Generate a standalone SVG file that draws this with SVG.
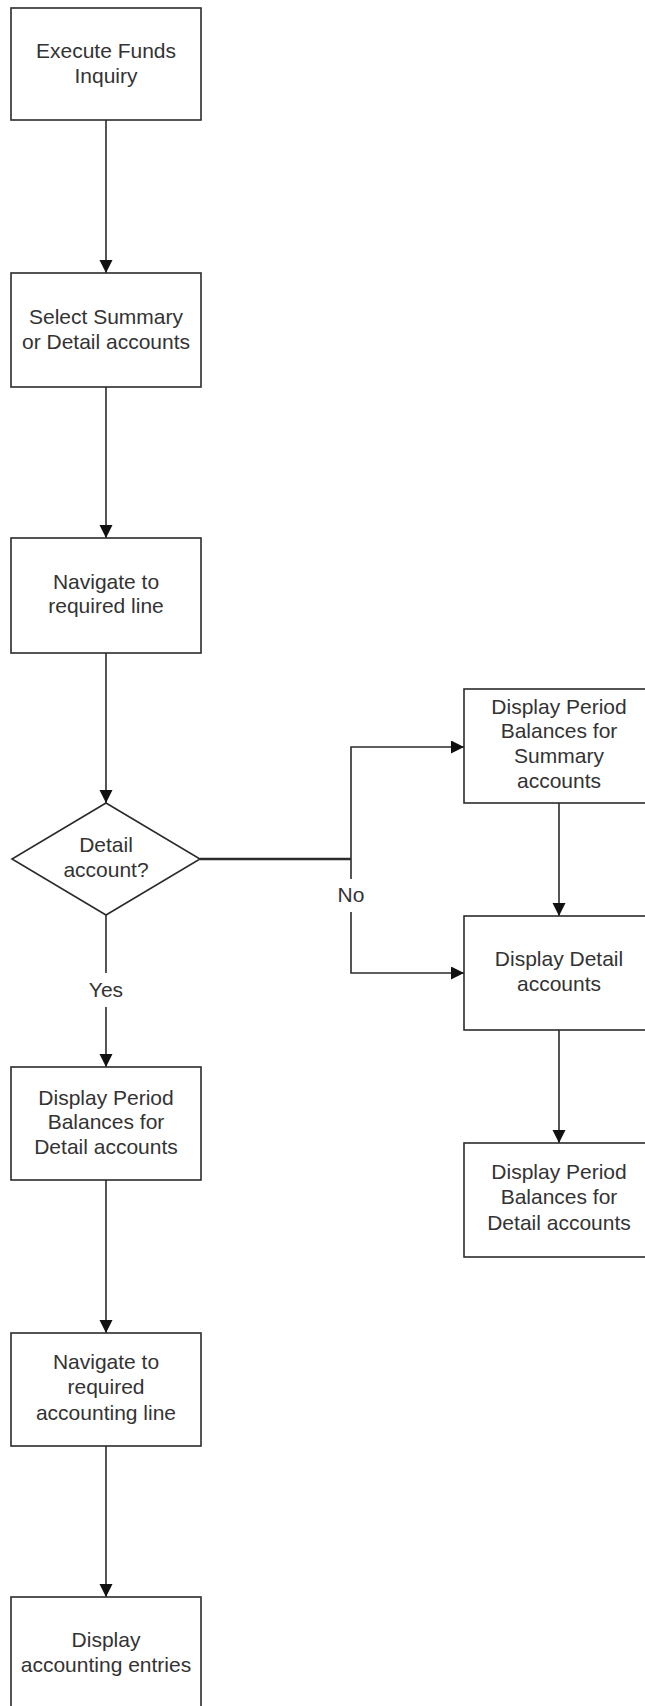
<svg xmlns="http://www.w3.org/2000/svg" width="645" height="1706" viewBox="0 0 645 1706">
<style>
  .box { fill: #ffffff; stroke: #2b2b2b; stroke-width: 1.6; }
  .lbl { font-family: "Liberation Sans", Arial, sans-serif; font-size: 21px; fill: #333333; text-anchor: middle; }
  .ln { fill: none; stroke: #2b2b2b; stroke-width: 1.6; }
  .arr { marker-end: url(#ah); }
</style>
<defs>
  <marker id="ah" markerUnits="userSpaceOnUse" markerWidth="14" markerHeight="14" refX="13" refY="6.5" orient="auto">
    <path d="M0,0 L13,6.5 L0,13 z" fill="#111111"/>
  </marker>
</defs>
<rect width="645" height="1706" fill="#ffffff"/>

<g id="connectors">
  <path class="ln arr" d="M106,120 L106,273"/>
  <path class="ln arr" d="M106,387 L106,538"/>
  <path class="ln arr" d="M106,653 L106,803"/>
  <path class="ln" d="M106,915 L106,973"/>
  <path class="ln arr" d="M106,1007 L106,1067"/>
  <path class="ln arr" d="M106,1180 L106,1333"/>
  <path class="ln arr" d="M106,1446 L106,1597"/>
  <path class="ln" style="stroke-width:2.6" d="M200,859 L351,859"/>
  <path class="ln arr" d="M351,879 L351,747 L464,747"/>
  <path class="ln arr" d="M351,912 L351,973 L464,973"/>
  <path class="ln arr" d="M559,803 L559,916"/>
  <path class="ln arr" d="M559,1030 L559,1143"/>
  <text class="lbl" x="106" y="997">Yes</text>
  <text class="lbl" x="351" y="902">No</text>
</g>

<g id="n1">
  <rect class="box" x="11" y="8" width="190" height="112"/>
  <text class="lbl" x="106" y="58">Execute Funds</text>
  <text class="lbl" x="106" y="83">Inquiry</text>
</g>
<g id="n2">
  <rect class="box" x="11" y="273" width="190" height="114"/>
  <text class="lbl" x="106" y="323.5">Select Summary</text>
  <text class="lbl" x="106" y="348.5">or Detail accounts</text>
</g>
<g id="n3">
  <rect class="box" x="11" y="538" width="190" height="115"/>
  <text class="lbl" x="106" y="588.5">Navigate to</text>
  <text class="lbl" x="106" y="613">required line</text>
</g>
<g id="n4">
  <polygon class="box" points="106,803 200,859 106,915 12,859"/>
  <text class="lbl" x="106" y="852">Detail</text>
  <text class="lbl" x="106" y="877">account?</text>
</g>
<g id="n5">
  <rect class="box" x="11" y="1067" width="190" height="113"/>
  <text class="lbl" x="106" y="1104.5">Display Period</text>
  <text class="lbl" x="106" y="1129">Balances for</text>
  <text class="lbl" x="106" y="1153.5">Detail accounts</text>
</g>
<g id="n6">
  <rect class="box" x="11" y="1333" width="190" height="113"/>
  <text class="lbl" x="106" y="1369">Navigate to</text>
  <text class="lbl" x="106" y="1393.5">required</text>
  <text class="lbl" x="106" y="1419.5">accounting line</text>
</g>
<g id="n7">
  <rect class="box" x="11" y="1597" width="190" height="113"/>
  <text class="lbl" x="106" y="1647">Display</text>
  <text class="lbl" x="106" y="1672">accounting entries</text>
</g>
<g id="n8">
  <rect class="box" x="464" y="689" width="190" height="114"/>
  <text class="lbl" x="559" y="713.5">Display Period</text>
  <text class="lbl" x="559" y="738">Balances for</text>
  <text class="lbl" x="559" y="763">Summary</text>
  <text class="lbl" x="559" y="788">accounts</text>
</g>
<g id="n9">
  <rect class="box" x="464" y="916" width="190" height="114"/>
  <text class="lbl" x="559" y="965.5">Display Detail</text>
  <text class="lbl" x="559" y="990.5">accounts</text>
</g>
<g id="n10">
  <rect class="box" x="464" y="1143" width="190" height="114"/>
  <text class="lbl" x="559" y="1179">Display Period</text>
  <text class="lbl" x="559" y="1204">Balances for</text>
  <text class="lbl" x="559" y="1229.5">Detail accounts</text>
</g>
</svg>
